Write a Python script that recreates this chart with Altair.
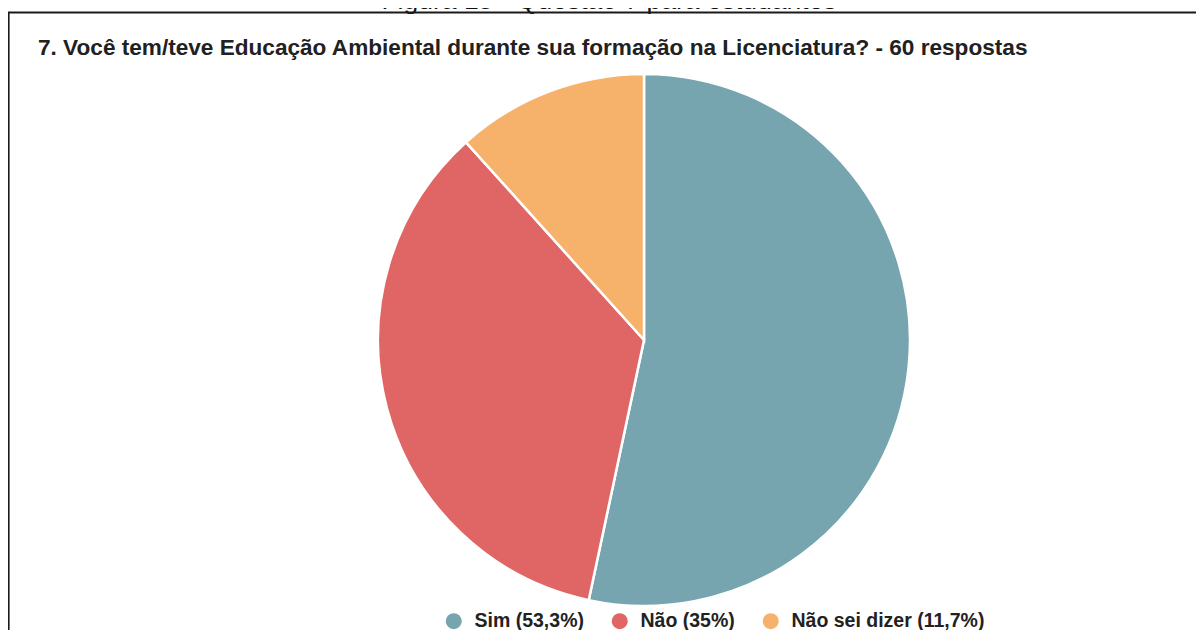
import altair as alt
import pandas as pd

# ---- data ----
categories = ["Sim", "Não", "Não sei dizer"]
counts = [32, 21, 7]
pct_labels = ["53,3%", "35%", "11,7%"]
colors = ["#76A5AF", "#E06666", "#F6B26B"]

caption_text = "Figura 15 - Questão 7 para estudantes"
title_text = "7. Você tem/teve Educação Ambiental durante sua formação na Licenciatura? - 60 respostas"

legend_labels = [f"{c} ({p})" for c, p in zip(categories, pct_labels)]
df = pd.DataFrame({
    "label": legend_labels,
    "count": counts,
    "ord": list(range(len(categories))),
})

W, H = 1188, 622
FONT = "Liberation Sans, Arial, Helvetica, sans-serif"

pie = alt.Chart(df).mark_arc(
    outerRadius=266, stroke="white", strokeWidth=2.5
).encode(
    x=alt.value(636),
    y=alt.value(332),
    theta=alt.Theta("count:Q", stack=True),
    order=alt.Order("ord:Q"),
    color=alt.Color(
        "label:N",
        scale=alt.Scale(domain=legend_labels, range=colors),
        legend=alt.Legend(
            title=None,
            orient="none",
            direction="horizontal",
            legendX=436,
            legendY=603,
            symbolType="circle",
            symbolSize=256,
            symbolStrokeWidth=0,
            labelFont=FONT,
            labelFontSize=19.5,
            labelFontWeight="bold",
            labelColor="#222222",
            labelOffset=11,
            columnPadding=26,
            padding=0,
            labelLimit=400,
        ),
    ),
)

title = alt.Chart(pd.DataFrame({"t": [title_text]})).mark_text(
    align="left", baseline="alphabetic", font=FONT, fontSize=22.6,
    fontWeight="bold", color="#212121"
).encode(x=alt.value(30), y=alt.value(47), text="t:N")

caption = alt.Chart(pd.DataFrame({"t": [caption_text]})).mark_text(
    align="center", baseline="alphabetic", font=FONT, fontSize=26.5,
    color="#111111"
).encode(x=alt.value(601), y=alt.value(0.5), text="t:N")

top_line = alt.Chart(pd.DataFrame({"a": [0]})).mark_rule(
    color="#1a1a1a", strokeWidth=2.2
).encode(x=alt.value(-1), x2=alt.value(W + 8), y=alt.value(4.5))

left_line = alt.Chart(pd.DataFrame({"a": [0]})).mark_rule(
    color="#1a1a1a", strokeWidth=2.2
).encode(x=alt.value(0.5), y=alt.value(4), y2=alt.value(H))

chart = alt.layer(caption, top_line, left_line, title, pie).properties(
    width=W, height=H, padding=0,
    autosize=alt.AutoSizeParams(type="none"),
    background="white",
).configure_view(stroke=None)

chart.save("out.html", embed_options={"renderer": "svg", "actions": False})
